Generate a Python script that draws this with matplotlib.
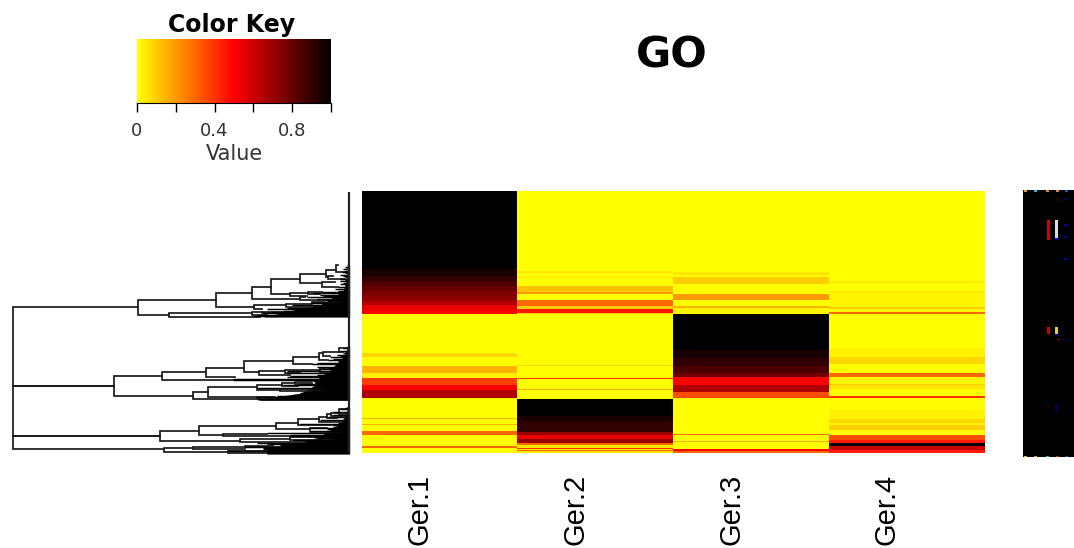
#!/usr/bin/env python3
# -*- coding: utf-8 -*-
import numpy as np
import matplotlib
matplotlib.use("Agg")
import matplotlib.pyplot as plt
from matplotlib.colors import LinearSegmentedColormap
from matplotlib.cm import ScalarMappable

W, H = 1074, 548

def box(x0, y0, x1, y1):
    # pixel box (y from the top) to figure fractions
    return [x0/W, 1-y1/H, (x1-x0)/W, (y1-y0)/H]

#########################
# DATA
#########################
samples = ["Ger.1", "Ger.2", "Ger.3", "Ger.4"]

# heatmap columns, written as value / number of rows
ger1_values = [1, .95, .9, .85, .8, .75, .72, .65, .55, .5,
               0, .08, 0, .15, .03, .38, .5, .65,
               0, .15, 0, .15, 0, .3, 0, .3, 0]
ger1_rows = [79, 7, 5, 5, 5, 5, 5, 4, 5, 4,
             38, 4, 9, 7, 5, 7, 5, 8,
             20, 1, 5, 1, 6, 4, 11, 2, 5]
ger2_values = [0, .05, 0, .03, 0, .12, .2, 0, .3, .1, .45, .1,
               0, .08, 0, .4, 0, .15, 0,
               0, 1, .95, .9, .7, .55, .7, .3, .05, .4, .05, .3, .05]
ger2_rows = [81, 2, 3, 2, 8, 6, 2, 6, 6, 3, 4, 1,
             50, 1, 12, 1, 10, 1, 8,
             1, 17, 5, 11, 3, 4, 4, 2, 3, 1, 1, 1, 2]
ger3_values = [0, .05, 0, .1, 0, .2, 0, .15, .02,
               1, .95, .9, .85, .78, .5, .66, .35,
               0, .3, 0, .15, 0, .5, .3]
ger3_rows = [82, 3, 2, 7, 10, 6, 6, 2, 6,
             35, 8, 8, 7, 4, 8, 7, 6,
             36, 1, 6, 1, 7, 2, 2]
ger4_values = [0, .04, 0, .04, .02, .1, .01, .3,
               0, .03, .08, 0, .3, .02, .1, .05, 0, .4,
               .01, .03, .08, .02, .1, .01, .35, .45, 1, .6, .45]
ger4_rows = [91, 2, 8, 2, 14, 2, 3, 2,
             33, 9, 7, 9, 4, 7, 1, 4, 7, 2,
             12, 9, 4, 2, 5, 5, 5, 3, 3, 4, 3]

key_ticks = [0, .2, .4, .6, .8, 1]
key_labels = ["0", "", "0.4", "", "0.8", ""]

# dendrogram brackets: x of the stem, then (y, end x) of both arms
brackets = [
    (38, 382, 415, 618, 343), (38, 618, 343, 767, 480), (38, 767, 480, 808, 493),
    (415, 360, 647, 405, 508), (647, 338, 757, 382, 762), (757, 320, 813, 356, 900),
    (813, 297, 900, 343, 870), (900, 283, 978, 310, 965), (978, 270, 1008, 292, 985),
    (1008, 255, 1015, 275, 1040), (985, 288, 1000, 297, 1035), (965, 305, 1005, 320, 1015),
    (870, 338, 925, 348, 920), (925, 335, 965, 343, 960), (900, 352, 915, 360, 975),
    (762, 376, 857, 387, 785), (857, 372, 935, 380, 975), (935, 366, 975, 370, 1020),
    (508, 400, 755, 410, 780), (755, 397, 785, 405, 800), (785, 395, 855, 400, 880),
    (343, 588, 487, 648, 580), (487, 577, 618, 600, 700), (618, 563, 733, 592, 705),
    (733, 543, 880, 576, 778), (880, 532, 958, 553, 935), (958, 518, 968, 540, 985),
    (968, 515, 1020, 528, 990), (1018, 503, 1040, 516, 1030), (778, 573, 855, 585, 870),
    (855, 570, 960, 578, 900), (960, 565, 985, 575, 990), (580, 635, 625, 658, 770),
    (625, 622, 770, 652, 770), (770, 615, 845, 630, 840), (845, 610, 885, 618, 895),
    (885, 607, 935, 613, 935), (840, 627, 935, 633, 965), (770, 650, 825, 655, 830),
    (480, 752, 597, 782, 720), (597, 738, 828, 765, 668), (828, 730, 893, 748, 930),
    (893, 718, 958, 735, 1000), (958, 712, 980, 725, 1030), (980, 703, 993, 715, 1010),
    (993, 698, 1018, 708, 1040), (1018, 686, 1035, 702, 1045), (930, 745, 980, 757, 1020),
    (668, 762, 800, 768, 870), (720, 776, 870, 786, 915), (870, 772, 940, 780, 1000),
    (493, 805, 580, 815, 685), (580, 802, 790, 808, 735), (735, 797, 820, 802, 850),
    (685, 812, 800, 820, 800),
]

# leaf rows of the dendrogram: row, x where the leaf branch starts
leaf_rows = [256, 260, 264, 268, 272, 276, 280, 284, 288, 292, 296, 300, 304, 308, 312,
             316, 320, 324, 328, 332, 336, 340, 344, 348, 352, 356, 360, 364, 368, 372,
             376, 380, 384, 388, 392, 396, 400, 404, 408,
             500, 504, 508, 512, 516, 520, 524, 528, 532, 536, 540, 544, 548, 552, 556,
             560, 564, 568, 572, 576, 580, 584, 588, 592, 596, 600, 604, 608, 612, 616,
             620, 624, 628, 632, 636, 640, 644, 648, 652, 656,
             680, 684, 688, 692, 696, 700, 704, 708, 712, 716, 720, 724, 728, 732, 736,
             740, 744, 748, 752, 756, 760, 764, 768, 772, 776, 780, 784, 788, 792, 796,
             800, 804, 808, 812, 816, 820]
leaf_start = [1040, 1035, 1040, 1030, 1035, 1025, 1035, 1020, 1030, 1035, 1020, 1035, 1020, 1030, 1020,
              1035, 1015, 1040, 1005, 1015, 965, 940, 960, 970, 920, 950, 975, 1020, 930, 975,
              875, 940, 860, 800, 850, 810, 790, 770, 760,
              1040, 1030, 1045, 1020, 1035, 1030, 1010, 1020, 990, 1000, 985, 1015, 950, 935, 1010,
              950, 985, 960, 860, 990, 860, 950, 870, 860, 700, 700, 940, 985, 895, 850,
              935, 770, 965, 935, 1000, 900, 880, 830, 770, 770,
              1040, 1035, 1020, 1040, 1000, 1045, 1000, 1040, 985, 1030, 960, 1030, 1015, 900, 1000,
              1000, 930, 980, 930, 1020, 800, 870, 870, 940, 1000, 880, 915, 770, 800, 840,
              735, 790, 790, 685, 800, 800]

# solid part of the leaves, one list for each of the three clusters
top_mass_rows = [256, 300, 330, 345, 360, 375, 385, 395, 411]
top_mass_start = [1045, 1040, 1030, 1010, 985, 960, 900, 860, 790]
mid_mass_rows = [498, 530, 550, 570, 590, 605, 620, 640, 650, 661]
mid_mass_start = [1045, 1030, 1010, 990, 960, 945, 940, 900, 830, 770]
low_mass_rows = [682, 720, 745, 755, 770, 785, 795, 805, 822]
low_mass_start = [1045, 1030, 1000, 980, 960, 915, 850, 800, 800]

# marks in the clipped black panel on the right
side_x = [105, 127, 105, 127, 133, 155, 155, 155, 155, 127, 105, 155, 133, 127, 127, 127,
          35, 65, 100, 130, 158, 35, 65, 100, 130, 158]
side_top = [120, 120, 440, 440, 476, 476, 133, 168, 235, 675, 675, 55, 55, 690, 460, 175,
            30, 30, 30, 30, 30, 826, 826, 826, 826, 826]
side_len = [60, 58, 20, 20, 4, 4, 5, 5, 5, 10, 5, 5, 7, 6, 8, 5,
            5, 5, 5, 5, 5, 5, 5, 5, 5, 5]
side_colors = ["#cc0000", "#dddddd", "#cc0000", "#e8d020", "#990000", "#0000bb", "#0000bb", "#0000bb",
               "#0000bb", "#000066", "#300000", "#000066", "#300000", "#000066", "#0000aa", "#0000dd",
               "#e0a030", "#30b0c0", "#e08040", "#e08040", "#3050c0",
               "#e0c030", "#e0a030", "#30b0c0", "#c03020", "#3050c0"]

#########################
# FIGURE
#########################
cmap = LinearSegmentedColormap.from_list("key", ["#ffff00", "#ff0000", "#000000"], N=256)
fig = plt.figure(figsize=(W/100, H/100), dpi=100, facecolor="white")

# heatmap
matrix = np.column_stack([np.repeat(ger1_values, ger1_rows), np.repeat(ger2_values, ger2_rows),
                          np.repeat(ger3_values, ger3_rows), np.repeat(ger4_values, ger4_rows)])
ax = fig.add_axes(box(362, 191, 985, 453))
ax.imshow(matrix, cmap=cmap, vmin=0, vmax=1, aspect="auto", interpolation="nearest")
ax.set_xticks([])
ax.set_yticks([])
for s in ax.spines.values():
    s.set_visible(False)
for i, name in enumerate(samples):
    ax.annotate(name, xy=(i, 0), xycoords=("data", "axes fraction"), xytext=(-14.5, -15),
                textcoords="offset points", rotation=90, ha="center", va="top",
                fontsize=21, family="Liberation Sans", color="black", annotation_clip=False)

# dendrogram
dend = fig.add_axes(box(0, 180, 352, 470))
dend.set_xlim(0, 1056)
dend.set_ylim(870, 0)
dend.axis("off")
for x, y1, x1, y2, x2 in brackets:
    dend.plot([x1, x, x, x2], [y1, y1, y2, y2], color="#1a1a1a", lw=1.25, solid_joinstyle="miter")
dend.hlines(leaf_rows, leaf_start, 1048, color="black", lw=1.05)
dend.fill_betweenx(top_mass_rows, top_mass_start, 1049, color="black", lw=0)
dend.fill_betweenx(mid_mass_rows, mid_mass_start, 1049, color="black", lw=0)
dend.fill_betweenx(low_mass_rows, low_mass_start, 1049, color="black", lw=0)
dend.vlines(1047, 35, 820, color="#222222", lw=1.6)

# colour key
key = fig.add_axes(box(137, 39, 331, 103))
bar = fig.colorbar(ScalarMappable(cmap=cmap), cax=key, orientation="horizontal")
bar.outline.set_visible(False)
bar.set_ticks(key_ticks)
bar.set_ticklabels(key_labels)
key.spines["bottom"].set_visible(True)
key.tick_params(axis="x", length=6.5, width=1.0, pad=7, labelsize=13, labelcolor="#333333")
key.set_xlabel("Value", fontsize=15, color="#333333", labelpad=3)
fig.text(232/W, 1-25/H, "Color Key", fontsize=17, fontweight="bold", ha="center", va="center")
fig.text(672/W, 1-55/H, "GO", fontsize=31, fontweight="bold", ha="center", va="center")

# black panel, clipped by the right edge
side = fig.add_axes(box(1023, 190, 1074, 457))
side.set_xlim(28, 181)
side.set_ylim(830, 30)
side.set_facecolor("black")
side.set_xticks([])
side.set_yticks([])
for s in side.spines.values():
    s.set_visible(False)
side.bar(side_x, side_len, bottom=side_top, width=9, color=side_colors)

fig.savefig("out.png", dpi=100)
